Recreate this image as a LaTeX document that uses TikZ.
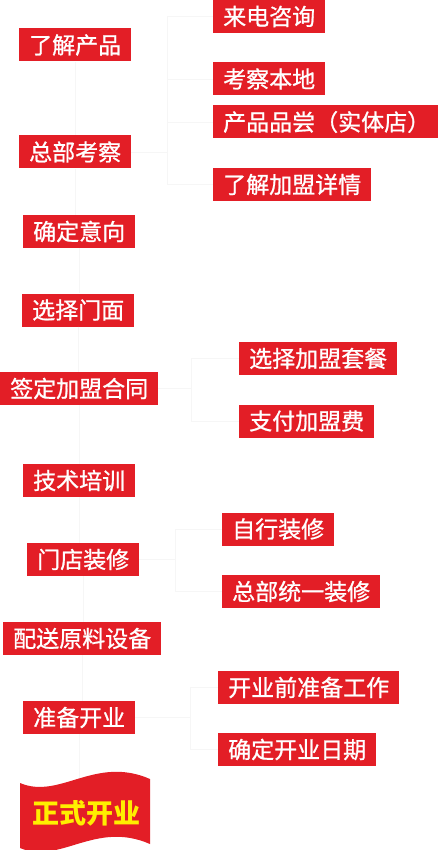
\documentclass[tikz,border=0pt]{standalone}
\usepackage{fontspec}
\usepackage{xcolor}
\usepackage{tikz}
\newfontfamily\cjk{Noto Sans CJK SC}
\newfontfamily\cjkmid[FakeBold=0.9]{Noto Sans CJK SC}
\definecolor{FlowRed}{HTML}{E31E26}
\definecolor{FlowGold}{HTML}{FFEE00}
\definecolor{FlowLine}{HTML}{F6F6F6}

\begin{document}
\begin{tikzpicture}[x=1pt,y=-1pt,
  stepbox/.style={fill=FlowRed,text=white,font=\cjkmid\fontsize{23}{23}\selectfont,inner xsep=10pt,inner ysep=0pt,minimum height=33pt,anchor=west},
  link/.style={draw=FlowLine,line width=.8pt}]
\useasboundingbox (0,0) rectangle (437,850);
% main steps
\node[stepbox] (ljcp) at (19,45) {了解产品};
\node[stepbox] (zbkc) at (19,152) {总部考察};
\node[stepbox] (qdyx) at (23,231.5) {确定意向};
\node[stepbox] (xzmm) at (22,310) {选择门面};
\node[stepbox] (qdht) at (0,388.5) {签定加盟合同};
\node[stepbox] (jspx) at (23,480.5) {技术培训};
\node[stepbox] (mdzx) at (27,559.5) {门店装修};
\node[stepbox] (psyl) at (3,638.5) {配送原料设备};
\node[stepbox] (zbky) at (23,717.5) {准备开业};
% side steps
\node[stepbox] (ldzx) at (213,16.5) {来电咨询};
\node[stepbox] (kcbd) at (213,79) {考察本地};
\node[stepbox] (cppc) at (213,122) {产品品尝（实体店）};
\node[stepbox] (ljxq) at (213,184.5) {了解加盟详情};
\node[stepbox] (xztc) at (239,358.5) {选择加盟套餐};
\node[stepbox] (zfjm) at (239,421) {支付加盟费};
\node[stepbox] (zxzx) at (222,529) {自行装修};
\node[stepbox] (zbzx) at (222,591.5) {总部统一装修};
\node[stepbox] (kyqz) at (218,687.5) {开业前准备工作};
\node[stepbox] (qdrq) at (218,749.5) {确定开业日期};
% flag
\fill[FlowRed] (20,783) .. controls (60,800) and (95,755) .. (150,779) -- (150,844) .. controls (95,820) and (60,865) .. (20,848) -- cycle;
\node[font=\cjk\bfseries\fontsize{27}{27}\selectfont,text=FlowGold] (zsky) at (86,813) {正式开业};
\coordinate (flagtop) at (79,778);
% faint connectors
\foreach \a/\b in {ljcp/zbkc,zbkc/qdyx,qdyx/xzmm,xzmm/qdht,qdht/jspx,jspx/mdzx,mdzx/psyl,psyl/zbky}{\draw[link] (\a.south) -- (\a.south |- \b.north);}
\draw[link] (zbky.south) -- (zbky.south |- flagtop);
\coordinate (j1) at (167,152);
\coordinate (j2) at (191,388.5);
\coordinate (j3) at (175,559.5);
\coordinate (j4) at (190,717.5);
\draw[link] (zbkc.east) -- (j1);
\draw[link] (qdht.east) -- (j2);
\draw[link] (mdzx.east) -- (j3);
\draw[link] (zbky.east) -- (j4);
\foreach \n in {ldzx,kcbd,cppc,ljxq}{\draw[link] (j1) |- (\n.west);}
\foreach \n in {xztc,zfjm}{\draw[link] (j2) |- (\n.west);}
\foreach \n in {zxzx,zbzx}{\draw[link] (j3) |- (\n.west);}
\foreach \n in {kyqz,qdrq}{\draw[link] (j4) |- (\n.west);}
\end{tikzpicture}
\end{document}
